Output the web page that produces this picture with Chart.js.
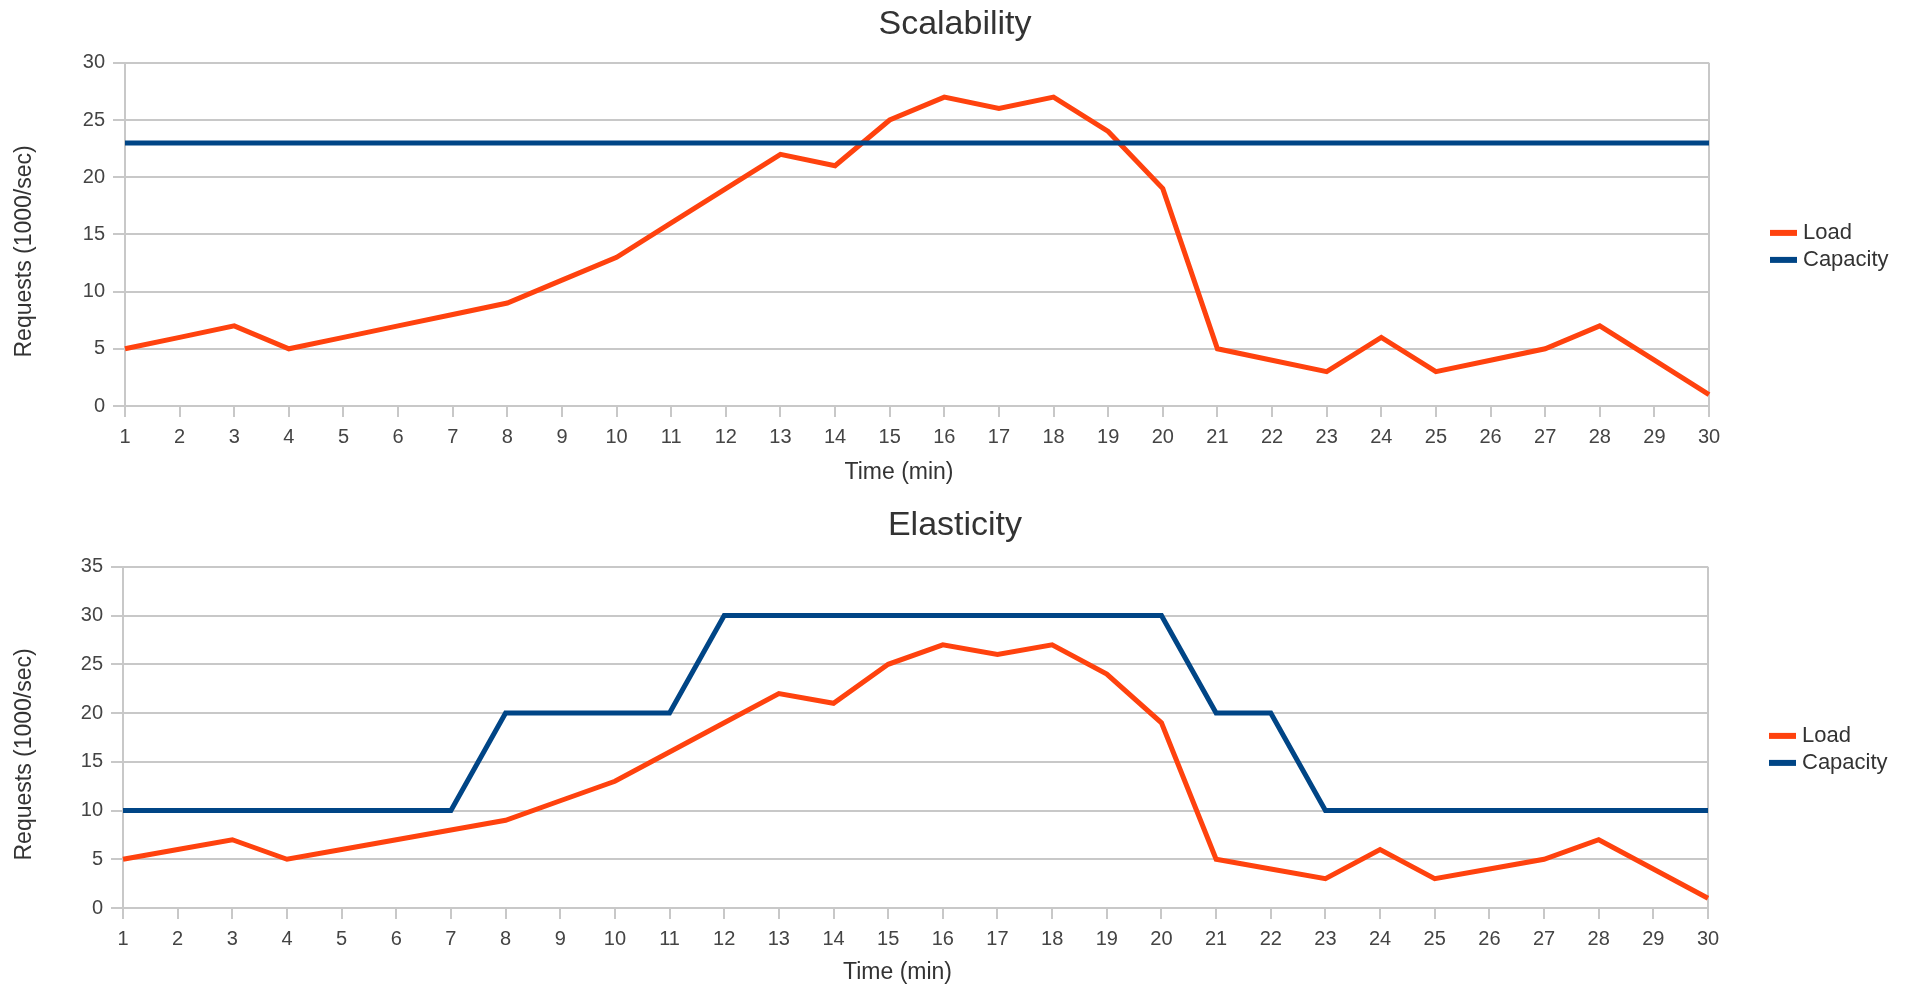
<!DOCTYPE html>
<html><head><meta charset="utf-8">
<script src="https://cdn.jsdelivr.net/npm/chart.js@4.4.1/dist/chart.umd.min.js"></script>
<style>
html,body{margin:0;padding:0;background:#fff;overflow:hidden;width:1910px;height:988px;}
#w1{position:absolute;left:0;top:0;width:1910px;height:488px;}
#w2{position:absolute;left:0;top:488px;width:1910px;height:500px;}
</style></head><body>
<div id="w1"><canvas id="c1"></canvas></div>
<div id="w2"><canvas id="c2"></canvas></div>
<script>
const minutes = ['1','2','3','4','5','6','7','8','9','10','11','12','13','14','15','16','17','18','19','20','21','22','23','24','25','26','27','28','29','30'];
const load = [5,6,7,5,6,7,8,9,11,13,16,19,22,21,25,27,26,27,24,19,5,4,3,6,3,4,5,7,4,1];
const scalabilityCapacity = [23,23,23,23,23,23,23,23,23,23,23,23,23,23,23,23,23,23,23,23,23,23,23,23,23,23,23,23,23,23];
const elasticityCapacity = [10,10,10,10,10,10,10,20,20,20,20,30,30,30,30,30,30,30,30,30,20,20,10,10,10,10,10,10,10,10];
const seriesNames = ['Load','Capacity'];
const chartTitles = ['Scalability','Elasticity'];
const xTitle = 'Time (min)';
const yTitle = 'Requests (1000/sec)';

const FONT = '"Liberation Sans", Arial, sans-serif';
Chart.defaults.font.family = FONT;
const GRID = '#c8c8c8';

const sideLegend = {
  id: 'sideLegend',
  afterDraw(chart, args, opts) {
    const ctx = chart.ctx, a = chart.chartArea;
    const cy = (a.top + a.bottom) / 2;
    ctx.save();
    ctx.font = '22px ' + FONT;
    ctx.textBaseline = 'middle';
    chart.data.datasets.forEach((d, i) => {
      const y = cy - 1.5 + i * 27;
      ctx.fillStyle = d.borderColor;
      ctx.fillRect(a.right + 61, y - 3, 27, 6);
      ctx.fillStyle = '#333';
      ctx.fillText(d.label, a.right + 94, y);
    });
    // axis titles
    ctx.fillStyle = '#333';
    ctx.font = '23px ' + FONT;
    ctx.textAlign = 'center';
    ctx.textBaseline = 'middle';
    ctx.fillText(xTitle, (a.left + a.right) / 2 - 18, chart.height - 15);
    ctx.translate(25, cy + 17);
    ctx.rotate(-Math.PI / 2);
    ctx.fillText(yTitle, 0, 0);
    ctx.restore();
  }
};

function makeChart(id, title, capacity, yMax, opt) {
  return new Chart(document.getElementById(id), {
    type: 'line',
    data: {
      labels: minutes,
      datasets: [
        { label: seriesNames[0], data: load, borderColor: '#ff420e', backgroundColor: '#ff420e', borderWidth: 5, pointRadius: 0, tension: 0, order: 1 },
        { label: seriesNames[1], data: capacity, borderColor: '#004586', backgroundColor: '#004586', borderWidth: 5, pointRadius: 0, tension: 0, order: 0 }
      ]
    },
    plugins: [sideLegend],
    options: {
      responsive: true,
      maintainAspectRatio: false,
      animation: false,
      devicePixelRatio: 1,
      layout: { padding: 0 },
      plugins: {
        legend: { display: false },
        tooltip: { enabled: false },
        title: { display: true, text: title, color: '#333', font: { size: 34, weight: 'normal' }, padding: { top: opt.tTop, bottom: opt.tBottom } }
      },
      scales: {
        x: {
          offset: false,
          afterFit: s => { s.height = opt.xH; },
          grid: { drawOnChartArea: true, color: c => (c.index === minutes.length - 1 ? GRID : 'rgba(0,0,0,0)'), lineWidth: 2, tickLength: 11, tickColor: GRID, tickWidth: 2 },
          border: { display: true, color: GRID, width: 2 },
          ticks: { autoSkip: false, maxRotation: 0, color: '#444', font: { size: 20 }, padding: 8 },
          title: { display: false }
        },
        y: {
          min: 0, max: yMax,
          afterFit: s => { s.width = opt.left; },
          grid: { color: GRID, lineWidth: 2, tickLength: 12, tickColor: GRID, tickWidth: 2 },
          border: { display: true, color: GRID, width: 2 },
          ticks: { stepSize: 5, color: '#444', font: { size: 20 }, padding: 8 },
          title: { display: false }
        },
        side: {
          position: 'right',
          min: 0, max: yMax,
          afterFit: s => { s.width = opt.right; },
          grid: { display: false },
          border: { display: false },
          ticks: { display: false }
        }
      }
    }
  });
}

makeChart('c1', chartTitles[0], scalabilityCapacity, 30, { right: 201, left: 125, tTop: 4, tBottom: 18, xH: 82 });
makeChart('c2', chartTitles[1], elasticityCapacity, 35, { right: 202, left: 123, tTop: 17, tBottom: 21, xH: 80 });
</script>
</body></html>
